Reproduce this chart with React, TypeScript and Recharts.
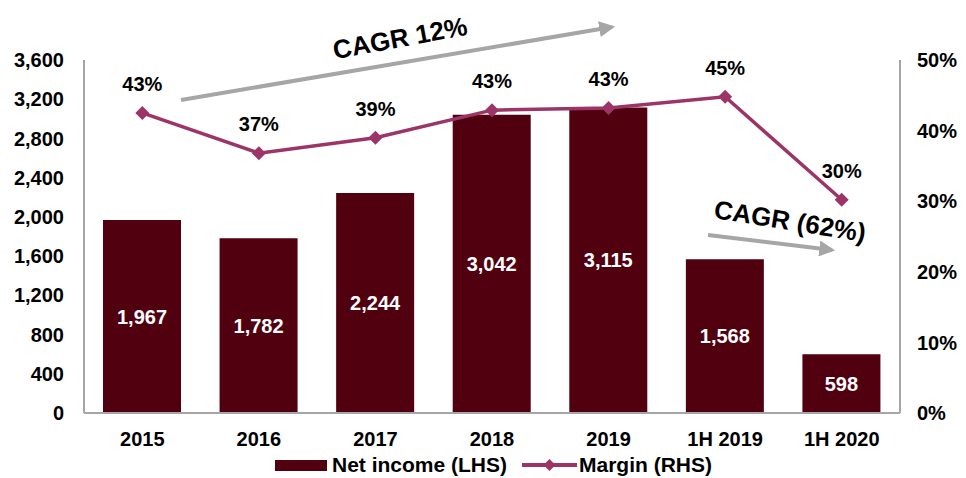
import { ComposedChart, Bar, Line, XAxis, YAxis, LabelList } from 'recharts';

const periods = ['2015', '2016', '2017', '2018', '2019', '1H 2019', '1H 2020'];
const netIncome = [1967, 1782, 2244, 3042, 3115, 1568, 598];
const marginPct = [42.5, 36.8, 39.0, 42.9, 43.2, 44.8, 30.2];
const leftTicks = [0, 400, 800, 1200, 1600, 2000, 2400, 2800, 3200, 3600];
const rightTicks = [0, 10, 20, 30, 40, 50];

const data = periods.map((p, i) => ({ period: p, income: netIncome[i], margin: marginPct[i] }));

const BAR = '#50000F';
const LINE = '#9C3468';
const AXIS = '#A6A6A6';
const FONT = '"Liberation Sans", Arial, sans-serif';

const tickStyle = { fill: '#000', fontSize: 20, fontWeight: 700, fontFamily: FONT };

const Diamond = (props: any) => {
    const { cx, cy } = props;
    if (cx == null || cy == null) return null;
    const r = 7;
    return <path d={`M${cx},${cy - r}L${cx + r},${cy}L${cx},${cy + r}L${cx - r},${cy}Z`} fill={LINE} />;
};

const App = () => {
    return (
        <div style={{ position: 'absolute', left: 0, top: 0, width: 966, height: 478, fontFamily: FONT }}>
            <ComposedChart
                width={966}
                height={478}
                data={data}
                margin={{ top: 60, right: 0, bottom: 0, left: 0 }}
            >
                <XAxis
                    dataKey="period"
                    height={65}
                    tickSize={0}
                    tickMargin={19}
                    tick={tickStyle}
                    axisLine={{ stroke: AXIS, strokeWidth: 2 }}
                    tickLine={false}
                />
                <YAxis
                    yAxisId="left"
                    width={84}
                    domain={[0, 3600]}
                    ticks={leftTicks}
                    tickFormatter={(v: number) => v.toLocaleString('en-US')}
                    tickSize={0}
                    tickMargin={20}
                    tick={tickStyle}
                    axisLine={{ stroke: AXIS, strokeWidth: 2 }}
                    tickLine={false}
                />
                <YAxis
                    yAxisId="right"
                    orientation="right"
                    width={66}
                    domain={[0, 50]}
                    ticks={rightTicks}
                    tickFormatter={(v: number) => `${v}%`}
                    tickSize={0}
                    tickMargin={17}
                    tick={tickStyle}
                    axisLine={{ stroke: AXIS, strokeWidth: 2 }}
                    tickLine={false}
                />
                <Bar yAxisId="left" dataKey="income" fill={BAR} barSize={78} isAnimationActive={false}>
                    <LabelList
                        dataKey="income"
                        position="center"
                        formatter={(v: any) => Number(v).toLocaleString('en-US')}
                        style={{ fill: '#fff', fontSize: 20, fontWeight: 700, fontFamily: FONT }}
                    />
                </Bar>
                <Line
                    yAxisId="right"
                    dataKey="margin"
                    stroke={LINE}
                    strokeWidth={3.5}
                    dot={<Diamond />}
                    activeDot={false}
                    isAnimationActive={false}
                >
                    <LabelList
                        dataKey="margin"
                        position="top"
                        offset={22}
                        formatter={(v: any) => `${Math.round(Number(v))}%`}
                        style={{ fill: '#000', fontSize: 20, fontWeight: 700, fontFamily: FONT }}
                    />
                </Line>
            </ComposedChart>

            {/* CAGR annotations */}
            <svg width={966} height={478} style={{ position: 'absolute', left: 0, top: 0, pointerEvents: 'none' }}>
                <defs>
                    <marker id="arrow" viewBox="0 0 10 10" refX="8" refY="5" markerWidth="4" markerHeight="4" orient="auto">
                        <path d="M0,0L10,5L0,10Z" fill={AXIS} />
                    </marker>
                </defs>
                <line x1={181} y1={100} x2={612} y2={27} stroke={AXIS} strokeWidth={4} markerEnd="url(#arrow)" />
                <line x1={708} y1={235} x2={832} y2={250} stroke={AXIS} strokeWidth={4} markerEnd="url(#arrow)" />
                <text x={400} y={47} textAnchor="middle" transform="rotate(-10.5 400 38)"
                      style={{ fontSize: 26, fontWeight: 700, fontFamily: FONT }}>CAGR 12%</text>
                <text x={790} y={230} textAnchor="middle" transform="rotate(9 790 221)"
                      style={{ fontSize: 26, fontWeight: 700, fontFamily: FONT }}>CAGR (62%)</text>
            </svg>

            {/* legend */}
            <div style={{ position: 'absolute', top: 453, left: 275, display: 'flex', alignItems: 'center', fontSize: 21, fontWeight: 700, whiteSpace: 'nowrap' }}>
                <span style={{ display: 'inline-block', width: 52, height: 11, background: BAR, marginRight: 5 }} />
                <span style={{ marginRight: 15 }}>Net income (LHS)</span>
                <svg width={55} height={14} style={{ marginRight: 2 }}>
                    <line x1={0} y1={7} x2={55} y2={7} stroke={LINE} strokeWidth={4} />
                    <path d="M27.5,1L33.5,7L27.5,13L21.5,7Z" fill={LINE} />
                </svg>
                <span>Margin (RHS)</span>
            </div>
        </div>
    );
};

export default App;
